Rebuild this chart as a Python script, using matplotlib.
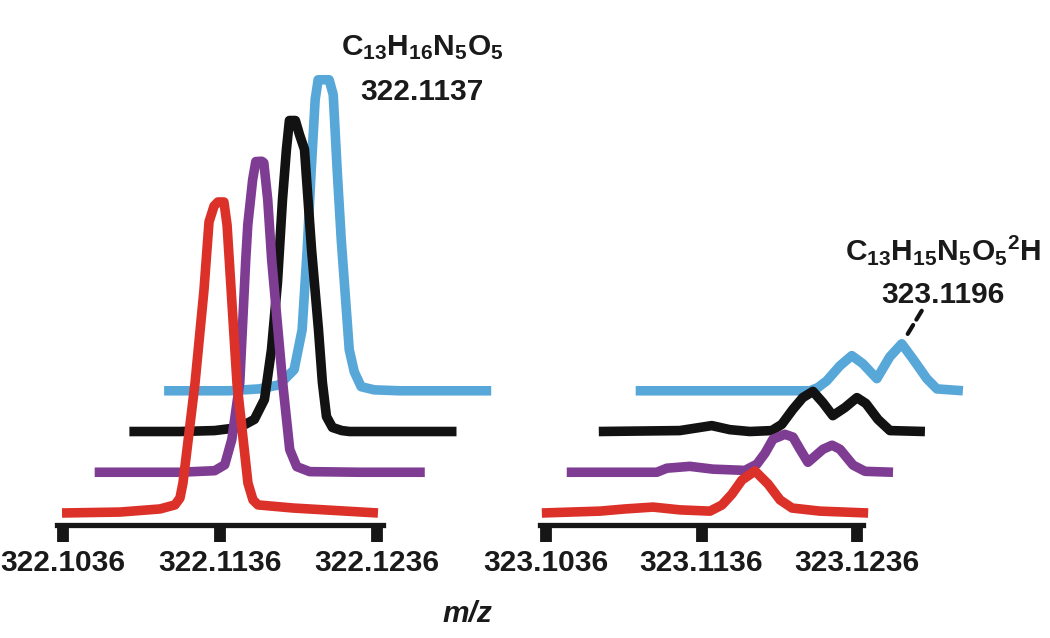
import matplotlib
matplotlib.use('Agg')
import matplotlib.pyplot as plt

plt.rcParams['font.family'] = ['Liberation Sans', 'DejaVu Sans']
plt.rcParams['mathtext.default'] = 'regular'

# ---------------- data ----------------
TICKS_LEFT = [322.1036, 322.1136, 322.1236]
TICK_LABELS_LEFT = ['322.1036', '322.1136', '322.1236']
TICKS_RIGHT = [323.1036, 323.1136, 323.1236]
TICK_LABELS_RIGHT = ['323.1036', '323.1136', '323.1236']

SERIES = ['red', 'purple', 'black', 'blue']   # front to back

# monoisotopic peak region (relative intensity, %)
left_red_mz = [322.10354, 322.10723, 322.10978, 322.11073, 322.11105, 322.11124, 322.11201,
               322.11258, 322.11290, 322.11322, 322.11347, 322.11385, 322.11405, 322.11468,
               322.11538, 322.11570, 322.11602, 322.11825, 322.12366]
left_red_int = [0, 0.3, 1.3, 2.6, 4.8, 9.6, 41.8, 71.7, 93.6, 98.7, 100, 100, 92.6, 41.8,
                9.6, 4.2, 2.6, 1.6, 0]

left_purple_mz = [322.10344, 322.10885, 322.11108, 322.11172, 322.11217, 322.11268, 322.11306,
                  322.11319, 322.11350, 322.11370, 322.11408, 322.11421, 322.11446, 322.11471,
                  322.11541, 322.11586, 322.11631, 322.11713, 322.12032, 322.12446]
left_purple_int = [0, 0, 0.5, 2.4, 10.5, 28.8, 68.4, 79.6, 94.1, 99.9, 100, 99.5, 87.6, 68.4,
                   28.8, 7.3, 1.8, 0.2, 0, 0]

left_black_mz = [322.10347, 322.10666, 322.10889, 322.11048, 322.11143, 322.11207, 322.11252,
                 322.11290, 322.11322, 322.11347, 322.11366, 322.11404, 322.11430, 322.11462,
                 322.11507, 322.11551, 322.11576, 322.11602, 322.11640, 322.11700, 322.11749,
                 322.12430]
left_black_int = [0, 0, 0.3, 1.3, 3.9, 10.3, 26.4, 47.9, 74.6, 90.7, 100, 100, 95.5, 90.7,
                  58.5, 32.8, 15.8, 4.8, 1.3, 0.3, 0, 0]

left_blue_mz = [322.10350, 322.10764, 322.10955, 322.11083, 322.11178, 322.11229, 322.11261,
                322.11287, 322.11312, 322.11331, 322.11401, 322.11427, 322.11452, 322.11478,
                322.11529, 322.11561, 322.11605, 322.11688, 322.11847, 322.12433]
left_blue_int = [0, 0, 0.6, 1.9, 6.8, 19.6, 45.3, 71.1, 93.6, 100, 100, 95.2, 71.1, 48.6,
                 13.2, 6.1, 1.3, 0.3, 0, 0]

# M+1 region (same intensity scale)
right_red_mz = [323.10334, 323.10707, 323.10868, 323.11048, 323.11222, 323.11415, 323.11492,
                323.11556, 323.11620, 323.11704, 323.11788, 323.11865, 323.11942, 323.12122,
                323.12431]
right_red_int = [0, 0.6, 1.3, 1.9, 1.0, 0.6, 2.6, 6.1, 10.6, 13.5, 9.3, 4.2, 1.6, 0.6, 0]

right_purple_mz = [323.10276, 323.10855, 323.10919, 323.11067, 323.11215, 323.11421, 323.11498,
                   323.11550, 323.11601, 323.11678, 323.11730, 323.11775, 323.11826, 323.11923,
                   323.11981, 323.12032, 323.12116, 323.12193, 323.12373]
right_purple_int = [0, 0, 1.3, 1.9, 1.0, 0.6, 2.6, 6.1, 10.6, 12.2, 11.3, 7.4, 3.2, 7.4,
                    8.7, 7.4, 2.3, 0.3, 0]

right_black_mz = [323.10264, 323.10784, 323.10913, 323.10990, 323.11106, 323.11235, 323.11376,
                  323.11440, 323.11511, 323.11575, 323.11640, 323.11704, 323.11768, 323.11846,
                  323.11923, 323.11981, 323.12058, 323.12135, 323.12360]
right_black_int = [0, 0.3, 1.3, 1.9, 0.6, 0, 0.3, 2.3, 7.1, 10.9, 12.9, 9.3, 5.1, 7.7,
                   10.9, 9.0, 3.9, 0.3, 0]

right_blue_mz = [323.10283, 323.11402, 323.11453, 323.11511, 323.11595, 323.11672, 323.11743,
                 323.11833, 323.11916, 323.11993, 323.12064, 323.12154, 323.12219, 323.12386]
right_blue_int = [0, 0, 1.0, 3.2, 8.0, 11.3, 8.7, 3.9, 10.9, 15.1, 10.3, 3.9, 0.6, 0]

LEFT_DATA = {'red': (left_red_mz, left_red_int), 'purple': (left_purple_mz, left_purple_int),
             'black': (left_black_mz, left_black_int), 'blue': (left_blue_mz, left_blue_int)}
RIGHT_DATA = {'red': (right_red_mz, right_red_int), 'purple': (right_purple_mz, right_purple_int),
              'black': (right_black_mz, right_black_int), 'blue': (right_blue_mz, right_blue_int)}

LABEL_LEFT_FORMULA = 'C$_{13}$H$_{16}$N$_5$O$_5$'
LABEL_LEFT_MASS = '322.1137'
LABEL_RIGHT_FORMULA = 'C$_{13}$H$_{15}$N$_5$O$_5$$^2$H'
LABEL_RIGHT_MASS = '323.1196'
XLABEL = 'm/z'

# ---------------- style ----------------
COLORS = {'red': '#dc3129', 'purple': '#7e3d92', 'black': '#121212', 'blue': '#58a7d9'}
X_SHIFT = 0.00218   # waterfall offset per trace (m/z)
Y_SHIFT = 13.1      # waterfall offset per trace (intensity)
LW = 6.9
W, H = 1050, 638
XPAD = 0.00038
YLIM = (-3.70, 164.95)

fig = plt.figure(figsize=(W / 100, H / 100), dpi=100)
ax_l = fig.add_axes([57 / W, (H - 524.5) / H, 326 / W, 524.5 / H])
ax_r = fig.add_axes([540 / W, (H - 524.5) / H, 323 / W, 524.5 / H])


def setup(ax, ticks, labels):
    ax.set_xlim(ticks[0] - XPAD, ticks[-1] + XPAD)
    ax.set_ylim(*YLIM)
    ax.patch.set_alpha(0)
    for s in ('left', 'top', 'right'):
        ax.spines[s].set_visible(False)
    ax.spines['bottom'].set_linewidth(3.8)
    ax.spines['bottom'].set_color('#161616')
    ax.set_yticks([])
    ax.set_xticks(ticks)
    ax.set_xticklabels(labels, fontweight='bold')
    ax.tick_params(axis='x', direction='out', length=12.5, width=8.5, color='#161616',
                   labelsize=21.5, pad=5, labelcolor='#1a1a1a')


def draw(ax, data):
    for k in reversed(range(len(SERIES))):
        name = SERIES[k]
        mz, inten = data[name]
        ax.plot([m + k * X_SHIFT for m in mz], [v + k * Y_SHIFT for v in inten],
                color=COLORS[name], lw=LW, clip_on=False,
                solid_joinstyle='round', solid_capstyle='butt')


setup(ax_l, TICKS_LEFT, TICK_LABELS_LEFT)
setup(ax_r, TICKS_RIGHT, TICK_LABELS_RIGHT)
draw(ax_l, LEFT_DATA)
draw(ax_r, RIGHT_DATA)

# pointer from the 2H peak of the last trace
bmz, bint = RIGHT_DATA['blue']
ip = bint.index(max(bint))
kb = SERIES.index('blue')
ax_r.annotate('', xy=(bmz[ip] + kb * X_SHIFT, bint[ip] + kb * Y_SHIFT),
              xytext=(14.4, 23.8), textcoords='offset points', annotation_clip=False,
              arrowprops=dict(arrowstyle='-', lw=3, linestyle=(0, (2.5, 1.5)),
                              color='#121212', shrinkA=0, shrinkB=5))

TXT = dict(ha='center', va='baseline', fontsize=21.5, fontweight='bold', color='#1a1a1a')
fig.text(422 / W, 1 - 55 / H, LABEL_LEFT_FORMULA, **TXT)
fig.text(422 / W, 1 - 100 / H, LABEL_LEFT_MASS, **TXT)
fig.text(943 / W, 1 - 260 / H, LABEL_RIGHT_FORMULA, **TXT)
fig.text(943 / W, 1 - 303 / H, LABEL_RIGHT_MASS, **TXT)
fig.text(467 / W, 1 - 622 / H, XLABEL, ha='center', va='baseline', fontsize=21.5,
         fontweight='bold', fontstyle='italic', color='#1a1a1a')

fig.savefig('out.png', dpi=100)
